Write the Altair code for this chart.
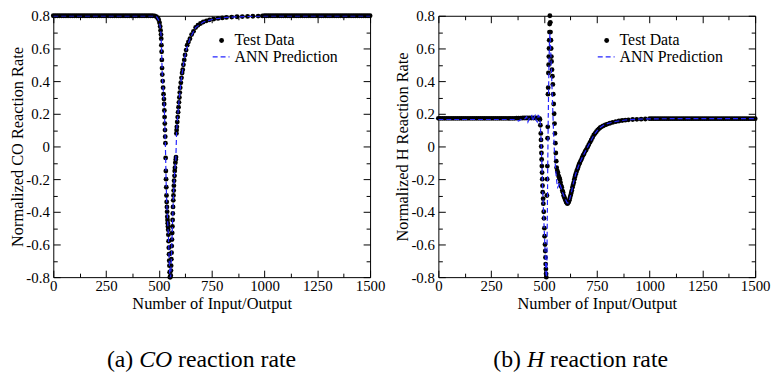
import altair as alt
import pandas as pd

# ---------------- data ----------------
# CO panel: test data (sample index, normalized rate)
co_test_x = [0, 10, 20, 30, 40, 50, 60, 70, 80, 90, 100, 110, 120, 130, 140, 150, 160, 170, 180, 190, 200, 210, 220, 230,
             240, 250, 260, 270, 280, 290, 300, 310, 320, 330, 340, 350, 360, 370, 380, 390, 400, 410, 420, 430, 440, 450,
             460, 470, 480, 488, 494, 499, 503, 506, 508, 510, 511, 512, 513, 514, 515, 516, 518, 520, 522, 524, 525, 526, 527, 528,
             529, 530, 531, 532, 533, 534, 535, 536, 537, 538, 539, 540, 541, 542, 543, 544, 545, 546, 547, 548, 549, 550, 551,
             552, 554, 556, 557, 558, 559, 560, 561, 562, 563, 564, 565, 566, 567, 568, 569, 570, 571, 572, 574, 575, 576, 578,
             580, 581, 583, 584, 585, 587, 589, 591, 593, 595, 597, 599, 601, 604, 607, 610, 613, 616, 620, 624, 629, 634, 640,
             647, 655, 664, 674, 685, 697, 710, 725, 740, 760, 780, 800, 820, 845, 870, 895, 920, 945, 970, 990,
             1000, 1010, 1020, 1030, 1040, 1050, 1060, 1070, 1080, 1090, 1100, 1110, 1120, 1130, 1140, 1150, 1160, 1170, 1180,
             1190, 1200, 1210, 1220, 1230, 1240, 1250, 1260, 1270, 1280, 1290, 1300, 1310, 1320, 1330, 1340, 1350, 1360, 1370,
             1380, 1390, 1400, 1410, 1420, 1430, 1440, 1450, 1460, 1470, 1480, 1490, 1500]
co_test_y = [0.8, 0.8, 0.8, 0.8, 0.8, 0.8, 0.8, 0.8, 0.8, 0.8, 0.8, 0.8, 0.8, 0.8, 0.8, 0.8, 0.8, 0.8, 0.8, 0.8, 0.8, 0.8, 0.8, 0.8,
             0.8, 0.8, 0.8, 0.8, 0.8, 0.8, 0.8, 0.8, 0.8, 0.8, 0.8, 0.8, 0.8, 0.8, 0.8, 0.8, 0.8, 0.8, 0.8, 0.8, 0.8, 0.8,
             0.8, 0.8, 0.799, 0.795, 0.787, 0.775, 0.758, 0.735, 0.71, 0.685, 0.66, 0.62, 0.58, 0.53, 0.48, 0.44, 0.4, 0.36, 0.32, 0.29, 0.26, 0.22, 0.18, 0.14,
             0.1, 0.06, 0.02, -0.07, -0.15, -0.2, -0.25, -0.3, -0.34, -0.37, -0.4, -0.43, -0.45, -0.47, -0.49, -0.51, -0.54, -0.58, -0.62, -0.66, -0.7, -0.73, -0.77,
             -0.8, -0.8, -0.79, -0.76, -0.73, -0.69, -0.65, -0.61, -0.57, -0.53, -0.49, -0.45, -0.41, -0.37, -0.33, -0.3, -0.27, -0.24, -0.21, -0.18, -0.15, -0.13, -0.1,
             -0.08, -0.065, 0.08, 0.1, 0.12, 0.15, 0.18, 0.21, 0.24, 0.27, 0.3, 0.33, 0.36, 0.39, 0.42, 0.45, 0.47, 0.5, 0.53, 0.56, 0.59, 0.62, 0.64,
             0.66, 0.685, 0.705, 0.728, 0.742, 0.753, 0.762, 0.769, 0.775, 0.78, 0.784, 0.787, 0.79, 0.792, 0.794, 0.795, 0.796, 0.797, 0.798, 0.799,
             0.8, 0.8, 0.8, 0.8, 0.8, 0.8, 0.8, 0.8, 0.8, 0.8, 0.8, 0.8, 0.8, 0.8, 0.8, 0.8, 0.8, 0.8, 0.8,
             0.8, 0.8, 0.8, 0.8, 0.8, 0.8, 0.8, 0.8, 0.8, 0.8, 0.8, 0.8, 0.8, 0.8, 0.8, 0.8, 0.8, 0.8, 0.8,
             0.8, 0.8, 0.8, 0.8, 0.8, 0.8, 0.8, 0.8, 0.8, 0.8, 0.8, 0.8, 0.8]
# CO panel: ANN prediction
co_ann_x = [0, 470, 490, 500, 506, 510, 513, 516, 520, 525, 528, 531, 534, 537, 541, 545, 549, 552, 554, 556, 560, 565, 570,
            575, 580, 582, 584, 590, 597, 605, 616, 629, 647, 674, 710, 760, 820, 900, 1000, 1100, 1500]
co_ann_y = [0.8, 0.8, 0.793, 0.77, 0.735, 0.685, 0.58, 0.44, 0.36, 0.26, 0.14, 0.0, -0.2, -0.34, -0.45, -0.54, -0.7, -0.8, -0.83, -0.79, -0.65, -0.45, -0.27,
            -0.15, -0.08, 0.0, 0.1, 0.2, 0.3, 0.4, 0.5, 0.59, 0.66, 0.728, 0.762, 0.78, 0.79, 0.795, 0.799, 0.8, 0.8]

# H panel: test data
h_test_x = [0, 10, 20, 30, 40, 50, 60, 70, 80, 90, 100, 110, 120, 130, 140, 150, 160, 170, 180, 190, 200, 210, 220, 230,
            240, 250, 260, 270, 280, 290, 300, 310, 320, 330, 340, 350, 360, 370, 380, 390, 400, 410, 420, 430, 440, 450,
            460, 470, 478, 481, 483, 485, 486, 487, 488, 489, 490, 491, 492, 493, 494, 496, 497, 499, 500, 502, 503, 505, 506, 507, 508, 509, 510, 511,
            514, 515, 516, 517, 518, 519, 520, 521, 522, 523, 524, 525, 526, 527, 528,
            530, 531, 533, 534, 535, 536, 538, 540, 542, 544, 546, 548, 550, 552, 554, 556, 558, 560, 563, 566, 569, 572, 575, 578,
            581, 584, 587, 590, 593, 596, 599, 602, 605, 608, 611, 614, 617, 620, 623, 626, 629, 632, 635, 638, 641, 644, 647, 650,
            654, 658, 662, 666, 670, 675, 680, 685, 690, 695, 700, 706, 712, 718, 724, 730, 736, 742, 748, 754, 760, 766, 772, 780,
            790, 800, 812, 825, 840, 855, 870, 885, 900, 920, 940, 960, 980,
            1000, 1010, 1020, 1030, 1040, 1050, 1060, 1070, 1080, 1090, 1100, 1110, 1120, 1130, 1140, 1150, 1160, 1170, 1180,
            1190, 1200, 1210, 1220, 1230, 1240, 1250, 1260, 1270, 1280, 1290, 1300, 1310, 1320, 1330, 1340, 1350, 1360, 1370,
            1380, 1390, 1400, 1410, 1420, 1430, 1440, 1450, 1460, 1470, 1480, 1490, 1500]
h_test_y = [0.172, 0.172, 0.172, 0.172, 0.172, 0.172, 0.172, 0.172, 0.172, 0.172, 0.172, 0.172, 0.172, 0.172, 0.172, 0.172, 0.172, 0.172, 0.172, 0.172, 0.172, 0.172, 0.172, 0.172,
            0.172, 0.172, 0.172, 0.172, 0.172, 0.172, 0.172, 0.172, 0.172, 0.172, 0.172, 0.172, 0.172, 0.173, 0.173, 0.173, 0.174, 0.174, 0.174, 0.174, 0.174, 0.174,
            0.174, 0.174, 0.172, 0.165, 0.13, 0.08, 0.04, 0.0, -0.04, -0.08, -0.12, -0.16, -0.2, -0.24, -0.28, -0.32, -0.35, -0.4, -0.44, -0.5, -0.55, -0.6, -0.64, -0.68, -0.72, -0.75, -0.78, -0.8,
            -0.3, -0.2, -0.12, 0.05, 0.12, 0.32, 0.36, 0.45, 0.5, 0.55, 0.6, 0.65, 0.7, 0.75, 0.8,
            0.76, 0.7, 0.65, 0.6, 0.55, 0.52, 0.47, 0.43, 0.38, 0.32, 0.26, 0.2, 0.14, 0.08, 0.02, -0.04, -0.09, -0.13, -0.15, -0.16, -0.18, -0.19, -0.2, -0.22,
            -0.24, -0.25, -0.27, -0.28, -0.3, -0.31, -0.32, -0.33, -0.34, -0.345, -0.35, -0.345, -0.34, -0.33, -0.315, -0.3, -0.285, -0.27, -0.25, -0.235, -0.22, -0.2, -0.185, -0.17,
            -0.155, -0.14, -0.125, -0.11, -0.1, -0.085, -0.07, -0.055, -0.045, -0.03, -0.02, -0.005, 0.01, 0.025, 0.04, 0.055, 0.07, 0.08, 0.09, 0.1, 0.108, 0.115, 0.12, 0.126,
            0.132, 0.137, 0.142, 0.147, 0.152, 0.156, 0.159, 0.161, 0.163, 0.165, 0.166, 0.167, 0.168,
            0.17, 0.17, 0.17, 0.17, 0.17, 0.17, 0.17, 0.17, 0.17, 0.17, 0.17, 0.17, 0.17, 0.17, 0.17, 0.17, 0.17, 0.17, 0.17,
            0.17, 0.17, 0.17, 0.17, 0.17, 0.17, 0.17, 0.17, 0.17, 0.17, 0.17, 0.17, 0.17, 0.17, 0.17, 0.17, 0.17, 0.17, 0.17,
            0.17, 0.17, 0.17, 0.17, 0.17, 0.17, 0.17, 0.17, 0.17, 0.17, 0.17, 0.17, 0.17]
# H panel: ANN prediction
h_ann_x = [0, 360, 372, 380, 390, 400, 410, 418, 424, 430, 436, 442, 447, 452, 458, 463, 468, 473, 478, 482, 486, 490, 495,
           500, 505, 509, 512, 514, 516, 518, 520, 522, 524, 526, 528, 530, 533, 537, 541, 545, 549, 553, 557, 561, 565, 569,
           574, 580, 590, 600, 610, 615, 622, 630, 640, 650, 662, 675, 690, 706, 724, 742, 760, 780, 800, 840, 885, 940, 1000,
           1100, 1500]
h_ann_y = [0.165, 0.165, 0.16, 0.155, 0.165, 0.162, 0.17, 0.182, 0.15, 0.17, 0.185, 0.19, 0.155, 0.175, 0.19, 0.16, 0.15, 0.19, 0.185, 0.15, 0.05, -0.1, -0.3,
           -0.47, -0.63, -0.76, -0.85, -0.7, -0.4, -0.1, 0.15, 0.35, 0.52, 0.64, 0.69, 0.66, 0.55, 0.4, 0.25, 0.1, -0.02, -0.1, -0.17, -0.22, -0.25, -0.24,
           -0.22, -0.25, -0.29, -0.32, -0.345, -0.345, -0.32, -0.28, -0.22, -0.17, -0.125, -0.085, -0.045, -0.005, 0.04, 0.08, 0.11, 0.128, 0.14, 0.153, 0.162, 0.167, 0.169,
           0.17, 0.17]

# axis ticks
x_major = [0, 250, 500, 750, 1000, 1250, 1500]
x_minor = [125, 375, 625, 875, 1125, 1375]
y_major = [-0.8, -0.6, -0.4, -0.2, 0, 0.2, 0.4, 0.6, 0.8]
y_minor = [-0.7, -0.5, -0.3, -0.1, 0.1, 0.3, 0.5, 0.7]

# ---------------- styling / layout ----------------
W, H = 320, 264
BLUE = "#2424ff"
FONT = "Liberation Serif"
LABEL_FS = 15
TITLE_FS = 16.5
LEG_FS = 16
CAP_FS = 24
CAP_Y = 348


def tick_axis(orient, offset, values, size):
    return alt.Axis(orient=orient, offset=offset, values=values, ticks=True, tickSize=size,
                    tickColor="black", tickWidth=1, labels=False, domain=False, grid=False, title=None)


def value_chart():
    return alt.Chart(pd.DataFrame({"k": [0]}))


def panel(tx, ty, axx, axy, ytitle, cap_parts):
    test = pd.DataFrame({"x": tx, "y": ty})
    ann = pd.DataFrame({"x": axx, "y": axy})
    xs = alt.Scale(domain=[0, 1500], nice=False, zero=False)
    ys = alt.Scale(domain=[-0.8, 0.8], nice=False, zero=False)

    pts = alt.Chart(test).mark_circle(size=24, color="black", opacity=1).encode(
        x=alt.X("x:Q", scale=xs, axis=alt.Axis(orient="bottom", values=x_major, format="d", ticks=False, tickSize=0,
                                               domain=False, grid=False, labelPadding=1.5, labelFlush=False,
                                               labelOverlap=False,
                                               title="Number of Input/Output", titleY=18.5)),
        y=alt.Y("y:Q", scale=ys, axis=alt.Axis(orient="left", values=y_major, labelExpr="'' + datum.value",
                                               ticks=False, tickSize=0, domain=False, grid=False, labelPadding=4,
                                               labelFlush=False, labelOverlap=False,
                                               title=ytitle, titleX=-28)),
    )
    line = alt.Chart(ann).mark_line(color=BLUE, strokeWidth=1.2, strokeDash=[5, 3], clip=True).encode(
        x=alt.X("x:Q", scale=xs, axis=tick_axis("top", -H, x_major, 7)),
        y=alt.Y("y:Q", scale=ys, axis=tick_axis("right", -W, y_major, 7)),
    )
    inv = alt.Chart(ann).mark_point(opacity=0)
    t2 = inv.encode(x=alt.X("x:Q", scale=xs, axis=tick_axis("bottom", -H, x_major, 7)),
                    y=alt.Y("y:Q", scale=ys, axis=tick_axis("left", -W, y_major, 7)))
    t3 = inv.encode(x=alt.X("x:Q", scale=xs, axis=tick_axis("top", -H, x_minor, 4)),
                    y=alt.Y("y:Q", scale=ys, axis=tick_axis("right", -W, y_minor, 4)))
    t4 = inv.encode(x=alt.X("x:Q", scale=xs, axis=tick_axis("bottom", -H, x_minor, 4)),
                    y=alt.Y("y:Q", scale=ys, axis=tick_axis("left", -W, y_minor, 4)))

    # legend
    leg_dot = value_chart().mark_circle(size=24, color="black", opacity=1).encode(
        x=alt.value(170), y=alt.value(25))
    leg_line = value_chart().mark_rule(color=BLUE, strokeWidth=1.2, strokeDash=[5, 3]).encode(
        x=alt.value(161), x2=alt.value(178), y=alt.value(41.5))
    leg_t1 = value_chart().mark_text(align="left", baseline="middle", font=FONT, fontSize=LEG_FS, color="black").encode(
        x=alt.value(183), y=alt.value(25), text=alt.value("Test Data"))
    leg_t2 = value_chart().mark_text(align="left", baseline="middle", font=FONT, fontSize=LEG_FS, color="black").encode(
        x=alt.value(183), y=alt.value(41.5), text=alt.value("ANN Prediction"))

    # caption
    caps = []
    for txt, xpos, align, style in cap_parts:
        caps.append(value_chart().mark_text(align=align, baseline="middle", font=FONT, fontSize=CAP_FS,
                                            fontStyle=style, color="black").encode(
            x=alt.value(xpos), y=alt.value(CAP_Y), text=alt.value(txt)))

    return alt.layer(pts, line, t2, t3, t4, leg_dot, leg_line, leg_t1, leg_t2, *caps).resolve_axis(
        x="independent", y="independent").properties(width=W, height=H)


left = panel(co_test_x, co_test_y, co_ann_x, co_ann_y, "Normalized CO Reaction Rate",
             [("(a)", 80.8, "right", "normal"), ("CO", 86.8, "left", "italic"), ("reaction rate", 126.1, "left", "normal")])
right = panel(h_test_x, h_test_y, h_ann_x, h_ann_y, "Normalized H Reaction Rate",
              [("(b)", 83.5, "right", "normal"), ("H", 89.5, "left", "italic"), ("reaction rate", 112.8, "left", "normal")])

chart = alt.hconcat(left, right, spacing=69, bounds="flush").properties(
    padding={"left": 0.75, "top": -2, "right": 0, "bottom": 0}
).configure_view(stroke="black", strokeWidth=1).configure_axis(
    labelFont=FONT, labelFontSize=LABEL_FS, labelColor="black",
    titleFont=FONT, titleFontSize=TITLE_FS, titleColor="black", titleFontWeight="normal"
)

chart.save("out.html", embed_options={"renderer": "svg", "actions": False})
